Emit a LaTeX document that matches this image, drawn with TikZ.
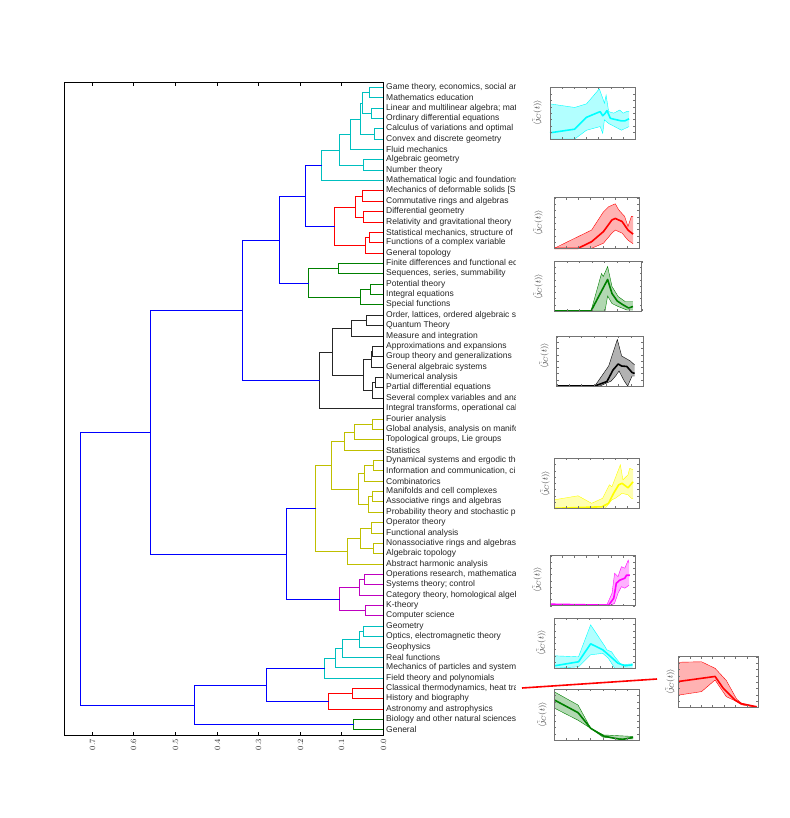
\documentclass[tikz,border=0pt]{standalone}
\usepackage{fontspec}
\newfontfamily\lblfont{Liberation Sans}
\usetikzlibrary{calc}
\definecolor{dcy}{rgb}{0,0.75,0.75}
\definecolor{dre}{rgb}{1,0,0}
\definecolor{dgr}{rgb}{0,0.5,0}
\definecolor{dbk}{rgb}{0.15,0.15,0.15}
\definecolor{dye}{rgb}{0.75,0.75,0}
\definecolor{dma}{rgb}{0.75,0,0.75}
\definecolor{dbl}{rgb}{0,0,1}
\definecolor{pgr}{rgb}{0,0.5,0}
\definecolor{pcy}{rgb}{0,1,1}
\definecolor{pye}{rgb}{1,1,0}
\definecolor{pma}{rgb}{1,0,1}
\definecolor{pre}{rgb}{1,0,0}
\definecolor{pbk}{rgb}{0,0,0}
\newcommand\mrg[5]{%
  \path let \p1=($(#2)!0.5!(#3)$), \n1={floor(abs(\y1))+0.5}, \n2={floor(#4)+0.5} in (\n2,-\n1) coordinate (#1);
  \draw[#5] (#2) -- (#2 -| #1) -- (#3 -| #1) -- (#3);
}
\newcommand\miniplot[8]{%
  \begin{scope}[shift={({#1},{#2+#4})},x=#3pt,y=#4pt]
    \fill[#5,opacity=0.3] plot coordinates {#6} -- plot coordinates {#7} -- cycle;
    \draw[#5,line width=0.4pt] plot coordinates {#6};
    \draw[#5,line width=0.4pt] plot coordinates {#7};
    \draw[#5,line width=1.6pt,line join=round] plot coordinates {#8};
    \foreach \u in {0,0.1429,0.2857,0.4286,0.5714,0.7143,0.8571,1}{
      \draw[black!55,line width=0.3pt] (\u,0) -- ++(0,0.04) (\u,1) -- ++(0,-0.04);}
    \foreach \v in {0,0.125,0.25,0.375,0.5,0.625,0.75,0.875,1}{
      \draw[black!55,line width=0.3pt] (0,\v) -- ++(0.025,0) (1,\v) -- ++(-0.025,0);}
    \draw[black!55,line width=0.5pt] (0,0) rectangle (1,1);
  \end{scope}}
\begin{document}
\begin{tikzpicture}[x=1pt,y=-1pt,
  cc/.style={draw=dcy,line width=1pt},
  rr/.style={draw=dre,line width=1pt},
  gg/.style={draw=dgr,line width=1pt},
  kk/.style={draw=dbk,line width=1pt},
  yy/.style={draw=dye,line width=1pt},
  mm/.style={draw=dma,line width=1pt},
  bb/.style={draw=dbl,line width=1pt},
  lbl/.style={anchor=west,xshift=1.5pt,inner sep=1pt,font=\lblfont\fontsize{8.5}{10}\selectfont,text=black!85},
  tick/.style={rotate=90,anchor=east,inner sep=0.5pt,font=\fontsize{8}{9}\selectfont,text=black!85},
  ylab/.style={rotate=90,inner sep=0pt,font=\fontsize{8}{9}\selectfont,text=black!80}]
\useasboundingbox (0,0) rectangle (789,818);
\fill[white] (0,0) rectangle (789,818);

% leaves
\foreach \i in {1,...,63}{\coordinate (L\i) at (383.5,{floor(87.3+(\i-1)*10.366)+0.5});}

% cyan cluster
\mrg{a1}{L1}{L2}{369.3}{cc}
\mrg{a2}{L3}{L4}{371.7}{cc}
\mrg{a3}{a1}{a2}{362}{cc}
\mrg{a4}{L5}{L6}{374}{cc}
\mrg{a5}{a3}{a4}{360.3}{cc}
\mrg{a6}{a5}{L7}{350}{cc}
\mrg{a7}{L8}{L9}{363.3}{cc}
\mrg{a8}{a6}{a7}{339.3}{cc}
\mrg{a9}{a8}{L10}{321}{cc}
% red cluster
\mrg{b1}{L11}{L12}{362}{rr}
\mrg{b2}{L13}{L14}{363.7}{rr}
\mrg{b3}{b1}{b2}{355}{rr}
\mrg{b4}{L15}{L16}{369}{rr}
\mrg{b5}{b4}{L17}{365.3}{rr}
\mrg{b6}{b3}{b5}{334.3}{rr}
\mrg{t1}{a9}{b6}{305.3}{bb}
% green cluster
\mrg{g1}{L18}{L19}{338.7}{gg}
\mrg{g2}{L20}{L21}{370.7}{gg}
\mrg{g3}{g2}{L22}{360.7}{gg}
\mrg{g4}{g1}{g3}{308.3}{gg}
\mrg{t2}{t1}{g4}{279.3}{bb}
% black cluster
\mrg{k1}{L23}{L24}{366.3}{kk}
\mrg{k2}{k1}{L25}{351}{kk}
\mrg{k3}{L26}{L27}{372.7}{kk}
\mrg{k4}{k3}{L28}{371}{kk}
\mrg{k5}{L29}{L30}{375}{kk}
\mrg{k6}{k5}{L31}{372.7}{kk}
\mrg{k7}{k4}{k6}{363.3}{kk}
\mrg{k8}{k2}{k7}{332.3}{kk}
\mrg{k9}{k8}{L32}{319.3}{kk}
\mrg{t3}{t2}{k9}{242}{bb}
% yellow cluster
\mrg{y1}{L33}{L34}{372.7}{yy}
\mrg{y2}{y1}{L35}{354.3}{yy}
\mrg{y3}{y2}{L36}{344.3}{yy}
\mrg{y4}{L37}{L38}{373.3}{yy}
\mrg{y5}{y4}{L39}{364}{yy}
\mrg{y6}{L40}{L41}{372}{yy}
\mrg{y7}{y6}{L42}{368}{yy}
\mrg{y8}{y5}{y7}{358.7}{yy}
\mrg{y9}{y3}{y8}{331}{yy}
\mrg{y10}{L43}{L44}{371.7}{yy}
\mrg{y11}{L45}{L46}{373.3}{yy}
\mrg{y12}{y10}{y11}{360.3}{yy}
\mrg{y13}{y12}{L47}{347.3}{yy}
\mrg{y14}{y9}{y13}{315.7}{yy}
% magenta cluster
\mrg{m1}{L48}{L49}{364.3}{mm}
\mrg{m2}{m1}{L50}{359.3}{mm}
\mrg{m3}{L51}{L52}{365.7}{mm}
\mrg{m4}{m2}{m3}{339.3}{mm}
\mrg{t4}{y14}{m4}{286.7}{bb}
\mrg{t5}{t3}{t4}{150.7}{bb}
% second cyan cluster
\mrg{c1}{L53}{L54}{363.3}{cc}
\mrg{c2}{c1}{L55}{359.3}{cc}
\mrg{c3}{c2}{L56}{342.7}{cc}
\mrg{c4}{c3}{L57}{335}{cc}
\mrg{c5}{c4}{L58}{324.7}{cc}
% second red cluster
\mrg{r1}{L59}{L60}{352.7}{rr}
\mrg{r2}{r1}{L61}{328.7}{rr}
\mrg{t6}{c5}{r2}{266}{bb}
% second green cluster
\mrg{q1}{L62}{L63}{353.3}{gg}
\mrg{t7}{t6}{q1}{194.7}{bb}
\mrg{root}{t5}{t7}{80}{bb}

% axes frame and ticks
\draw[line width=1pt] (64.5,82.5) rectangle (383.5,735.5);
\foreach \k in {0,...,7}{
  \coordinate (tb\k) at ({floor(383.3-41.57*\k)+0.5},735.5);
  \coordinate (tt\k) at ({floor(383.3-41.57*\k)+0.5},82.5);
  \draw[line width=1pt] (tb\k) -- ++(0,-4);
  \draw[line width=1pt] (tt\k) -- ++(0,4);
  \node[tick] (tl\k) at ($(tb\k)+(0,3)$) {0.\k};
}

% leaf labels
\begin{scope}
\clip (384,75) rectangle (515,745);
\foreach \i/\t in {
1/{Game theory, economics, social an},
2/{Mathematics education},
3/{Linear and multilinear algebra; mat},
4/{Ordinary differential equations},
5/{Calculus of variations and optimal},
6/{Convex and discrete geometry},
7/{Fluid mechanics},
8/{Algebraic geometry},
9/{Number theory},
10/{Mathematical logic and foundations},
11/{Mechanics of deformable solids [S},
12/{Commutative rings and algebras},
13/{Differential geometry},
14/{Relativity and gravitational theory},
15/{Statistical mechanics, structure of},
16/{Functions of a complex variable},
17/{General topology},
18/{Finite differences and functional eq},
19/{Sequences, series, summability},
20/{Potential theory},
21/{Integral equations},
22/{Special functions},
23/{Order, lattices, ordered algebraic st},
24/{Quantum Theory},
25/{Measure and integration},
26/{Approximations and expansions},
27/{Group theory and generalizations},
28/{General algebraic systems},
29/{Numerical analysis},
30/{Partial differential equations},
31/{Several complex variables and anal},
32/{Integral transforms, operational cal},
33/{Fourier analysis},
34/{Global analysis, analysis on manifo},
35/{Topological groups, Lie groups},
36/{Statistics},
37/{Dynamical systems and ergodic the},
38/{Information and communication, cir},
39/{Combinatorics},
40/{Manifolds and cell complexes},
41/{Associative rings and algebras},
42/{Probability theory and stochastic pr},
43/{Operator theory},
44/{Functional analysis},
45/{Nonassociative rings and algebras},
46/{Algebraic topology},
47/{Abstract harmonic analysis},
48/{Operations research, mathematical},
49/{Systems theory; control},
50/{Category theory, homological algeb},
51/{K-theory},
52/{Computer science},
53/{Geometry},
54/{Optics, electromagnetic theory},
55/{Geophysics},
56/{Real functions},
57/{Mechanics of particles and systems},
58/{Field theory and polynomials},
59/{Classical thermodynamics, heat tra},
60/{History and biography},
61/{Astronomy and astrophysics},
62/{Biology and other natural sciences},
63/{General}}{
  \node[lbl] (n\i) at (L\i) {\t};
}
\end{scope}

% small plots
\miniplot{550}{87.3}{85}{51.7}{pcy}
 {(0,0.68) (0.29,0.61) (0.43,0.68) (0.58,0.97) (0.62,0.79) (0.64,0.69) (0.66,0.85) (0.69,0.53) (0.75,0.5) (0.82,0.56) (0.86,0.5) (0.9,0.53) (0.93,0.53)}
 {(0.93,0.24) (0.84,0.17) (0.76,0.24) (0.69,0.3) (0.64,0.37) (0.62,0.11) (0.59,0.24) (0.43,0.17) (0.29,0) (0,0)}
 {(0,0.12) (0.29,0.19) (0.43,0.42) (0.59,0.53) (0.62,0.45) (0.65,0.5) (0.67,0.55) (0.71,0.4) (0.76,0.38) (0.84,0.35) (0.88,0.35) (0.93,0.39)}
\miniplot{554.3}{197.7}{84.7}{50.6}{pre}
 {(0,0) (0.28,0.23) (0.44,0.36) (0.58,0.72) (0.64,0.82) (0.72,0.88) (0.76,0.76) (0.83,0.63) (0.87,0.43) (0.91,0.63) (0.93,0.63)}
 {(0.93,0.09) (0.87,0.16) (0.8,0.3) (0.72,0.36) (0.68,0.3) (0.58,0.1) (0.44,0) (0,0)}
 {(0,0) (0.28,0) (0.44,0.13) (0.58,0.33) (0.68,0.56) (0.72,0.59) (0.8,0.53) (0.87,0.36) (0.93,0.28)}
\miniplot{554.3}{261}{87.4}{50}{pgr}
 {(0,0) (0.42,0) (0.54,0.75) (0.56,0.69) (0.61,0.89) (0.66,0.49) (0.73,0.29) (0.81,0.19) (0.9,0.19)}
 {(0.9,0.02) (0.83,0.02) (0.73,0.09) (0.66,0.15) (0.61,0.3) (0.58,0) (0,0)}
 {(0,0) (0.42,0) (0.61,0.63) (0.66,0.35) (0.72,0.2) (0.78,0.13) (0.85,0.06) (0.9,0.09)}
\miniplot{556.7}{336}{86.6}{50}{pbk}
 {(0,0) (0.44,0) (0.6,0.4) (0.7,0.93) (0.75,0.6) (0.8,0.55) (0.85,0.5) (0.9,0.42)}
 {(0.9,0.2) (0.87,0.2) (0.82,0) (0.78,0.1) (0.72,0.3) (0.68,0.2) (0.63,0.1) (0.5,0) (0,0)}
 {(0,0) (0.44,0) (0.58,0.09) (0.65,0.32) (0.71,0.44) (0.75,0.4) (0.81,0.39) (0.87,0.27) (0.9,0.25)}
\miniplot{554.3}{458.3}{84.7}{50}{pye}
 {(0,0.17) (0.28,0.25) (0.44,0.1) (0.57,0.2) (0.65,0.47) (0.68,0.43) (0.78,0.87) (0.81,0.57) (0.87,0.67) (0.89,0.8) (0.93,0.77)}
 {(0.93,0.2) (0.91,0.2) (0.87,0.27) (0.8,0.3) (0.72,0.2) (0.68,0.17) (0.6,0) (0,0)}
 {(0,0) (0.56,0.03) (0.64,0.1) (0.7,0.3) (0.76,0.47) (0.8,0.5) (0.87,0.41) (0.93,0.53)}
\miniplot{550}{555.7}{85}{50}{pma}
 {(0,0.03) (0.67,0.02) (0.73,0.25) (0.76,0.65) (0.8,0.58) (0.84,0.78) (0.88,0.75) (0.92,0.91) (0.93,0.85)}
 {(0.93,0.41) (0.88,0.35) (0.84,0.38) (0.8,0.25) (0.76,0.05) (0.71,0) (0,0.01)}
 {(0,0.03) (0.69,0.01) (0.75,0.15) (0.78,0.45) (0.82,0.51) (0.88,0.55) (0.9,0.61) (0.94,0.61)}
\miniplot{554.3}{618.3}{80.7}{50}{pcy}
 {(0,0.25) (0.3,0.23) (0.45,0.87) (0.63,0.43) (0.65,0.37) (0.71,0.33) (0.75,0.23) (0.83,0.07) (0.97,0.09)}
 {(0.97,0) (0.75,0) (0.67,0.2) (0.6,0.3) (0.45,0.27) (0.3,0.03) (0,0)}
 {(0,0.05) (0.3,0.13) (0.45,0.49) (0.6,0.37) (0.7,0.23) (0.79,0.1) (0.88,0.05) (0.97,0.07)}
\miniplot{554.3}{689.3}{84.7}{50.7}{pgr}
 {(0,0.95) (0.28,0.69) (0.43,0.23) (0.58,0.1) (0.93,0.07)}
 {(0.93,0.02) (0.58,0.05) (0.43,0.23) (0.28,0.39) (0,0.63)}
 {(0,0.79) (0.28,0.54) (0.43,0.23) (0.58,0.08) (0.72,0.03) (0.8,0.01) (0.93,0.05)}
\miniplot{678.3}{656.7}{80}{50.6}{pre}
 {(0,0.89) (0.29,0.9) (0.46,0.77) (0.6,0.53) (0.73,0.16) (0.79,0.08) (0.98,0.01)}
 {(0.98,0) (0.79,0.05) (0.71,0.13) (0.6,0.21) (0.46,0.54) (0.29,0.31) (0,0.24)}
 {(0,0.51) (0.46,0.61) (0.56,0.38) (0.71,0.14) (0.79,0.07) (0.98,0.01)}

% y labels of small plots
\node[ylab] (j1) at (537,113) {$\langle\tilde{j}_C(t)\rangle$};
\node[ylab] (j2) at (538,223) {$\langle\tilde{j}_C(t)\rangle$};
\node[ylab] (j3) at (538,287) {$\langle\tilde{j}_C(t)\rangle$};
\node[ylab] (j4) at (544,356) {$\langle\tilde{j}_C(t)\rangle$};
\node[ylab] (j5) at (545,484) {$\langle\tilde{j}_C(t)\rangle$};
\node[ylab] (j6) at (537,580) {$\langle\tilde{j}_C(t)\rangle$};
\node[ylab] (j7) at (541,643) {$\langle\tilde{j}_C(t)\rangle$};
\node[ylab] (j8) at (542,715) {$\langle\tilde{j}_C(t)\rangle$};
\node[ylab] (j9) at (670,682) {$\langle\tilde{j}_C(t)\rangle$};

% red connector
\coordinate (rs) at (522,688);
\coordinate (re) at (657,679);
\draw[red,line width=1.6pt] (rs) -- (re);
\end{tikzpicture}
\end{document}
